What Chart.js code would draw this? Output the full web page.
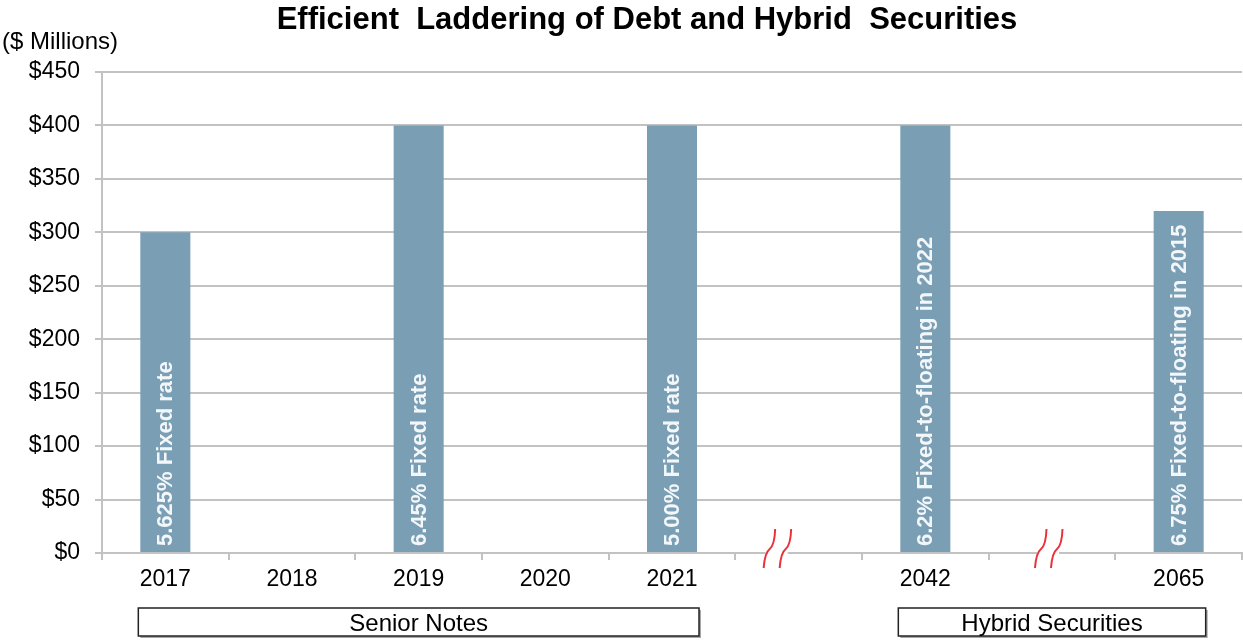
<!DOCTYPE html>
<html>
<head>
<meta charset="utf-8">
<script src="https://cdn.jsdelivr.net/npm/chart.js@4.4.1/dist/chart.umd.min.js"></script>
<style>
  body { margin: 0; background: #fff; }
  canvas { display: block; }
</style>
</head>
<body>
<canvas id="ladder_chart" width="1243" height="641"></canvas>
<script>
// chart values
var categories = ['2017', '2018', '2019', '2020', '2021', '', '2042', '', '2065'];
var amounts = [300, null, 400, null, 400, null, 400, null, 320];
var barNotes = ['5.625% Fixed rate', '', '6.45% Fixed rate', '', '5.00% Fixed rate', '',
                '6.2% Fixed-to-floating in 2022', '', '6.75% Fixed-to-floating in 2015'];
var breakIndex = [5, 7];
var groupLabels = ['Senior Notes', 'Hybrid Securities'];
var groupStart = [0, 6];
var groupEnd = [4, 8];
var yMax = 450;
var yStep = 50;

var titleText = 'Efficient  Laddering of Debt and Hybrid  Securities';
var unitText = '($ Millions)';
var fontFam = '"Liberation Sans", Arial, sans-serif';
var barColor = '#7a9fb5';
var gridColor = '#c2c2c2';

// text inside the bars
var barTextPlugin = {
    id: 'barText',
    afterDatasetsDraw: function(chart){
        var ctx = chart.ctx;
        var meta = chart.getDatasetMeta(0);
        ctx.save();
        ctx.fillStyle = '#f4f7f9';
        ctx.font = 'bold 22px ' + fontFam;
        ctx.textAlign = 'left';
        ctx.textBaseline = 'middle';
        meta.data.forEach(function(bar, i){
            if(amounts[i] == null || !barNotes[i]) return;
            ctx.save();
            ctx.translate(bar.x + 1, bar.base - 6);
            ctx.rotate(-Math.PI / 2);
            ctx.fillText(barNotes[i], 0, 0);
            ctx.restore();
        });
        ctx.restore();
    }
};

// title, unit label, axis breaks, group boxes
var extrasPlugin = {
    id: 'extras',
    afterDraw: function(chart){
        var ctx = chart.ctx;
        var xs = chart.scales.x;
        var area = chart.chartArea;
        var meta = chart.getDatasetMeta(0);
        ctx.save();

        ctx.fillStyle = '#000';
        ctx.font = 'bold 31px ' + fontFam;
        ctx.textAlign = 'center';
        ctx.textBaseline = 'middle';
        ctx.fillText(titleText, 647, 20);

        ctx.font = '24px ' + fontFam;
        ctx.textAlign = 'left';
        ctx.fillText(unitText, 2, 42);

        // breaks on the x axis
        var shift = [-21, -3];
        var y = area.bottom;
        breakIndex.forEach(function(idx, k){
            var cx = xs.getPixelForValue(idx) + shift[k];
            ctx.fillStyle = '#fff';
            ctx.fillRect(cx - 12, y - 3, 22, 6);
            ctx.strokeStyle = '#e8333b';
            ctx.lineWidth = 2;
            [cx - 14, cx + 2].forEach(function(x0){
                ctx.beginPath();
                ctx.moveTo(x0, y + 15);
                ctx.quadraticCurveTo(x0 + 1, y, x0 + 6, y - 4);
                ctx.quadraticCurveTo(x0 + 11, y - 8, x0 + 11.5, y - 24);
                ctx.stroke();
            });
        });

        // group boxes under the axis
        ctx.font = '24px ' + fontFam;
        ctx.textAlign = 'center';
        groupLabels.forEach(function(label, g){
            var b0 = meta.data[groupStart[g]];
            var b1 = meta.data[groupEnd[g]];
            var x0 = b0.x - b0.width / 2 - 2;
            var x1 = b1.x + b1.width / 2 + 2;
            var top = 608, h = 28;
            ctx.fillStyle = '#a8a8a8';
            ctx.fillRect(x0 + 2, top + 2, x1 - x0, h);
            ctx.fillStyle = '#fff';
            ctx.fillRect(x0, top, x1 - x0, h);
            ctx.strokeStyle = '#222';
            ctx.lineWidth = 1.5;
            ctx.strokeRect(x0, top, x1 - x0, h);
            ctx.fillStyle = '#000';
            ctx.fillText(label, (x0 + x1) / 2, top + h / 2 + 2);
        });
        ctx.restore();
    }
};

$chart = new Chart(document.getElementById('ladder_chart').getContext('2d'), {
    type: 'bar',
    data: {
        labels: categories,
        datasets: [{
            data: amounts,
            backgroundColor: barColor,
            borderWidth: 0,
            barPercentage: 0.395,
            categoryPercentage: 1.0
        }]
    },
    options: {
        responsive: false,
        animation: false,
        devicePixelRatio: 1,
        layout: { padding: { top: 72, right: 1, left: 0, bottom: 0 } },
        plugins: {
            legend: { display: false },
            title: { display: false },
            tooltip: { enabled: false }
        },
        scales: {
            x: {
                grid: { display: true, drawOnChartArea: false, offset: true, tickLength: 7, color: gridColor, lineWidth: 2 },
                border: { color: gridColor, width: 2 },
                ticks: { color: '#000', font: { size: 23, family: fontFam }, padding: 6, maxRotation: 0, autoSkip: false },
                afterFit: function(scale){ scale.height = 88; }
            },
            y: {
                min: 0,
                max: yMax,
                grid: { color: gridColor, lineWidth: 2, tickLength: 7 },
                border: { color: gridColor, width: 2 },
                ticks: {
                    stepSize: yStep,
                    color: '#000',
                    font: { size: 23, family: fontFam },
                    padding: 15,
                    callback: function(v){ return '$' + v; }
                },
                afterFit: function(scale){ scale.width = 102; }
            }
        }
    },
    plugins: [barTextPlugin, extrasPlugin]
});
</script>
</body>
</html>
